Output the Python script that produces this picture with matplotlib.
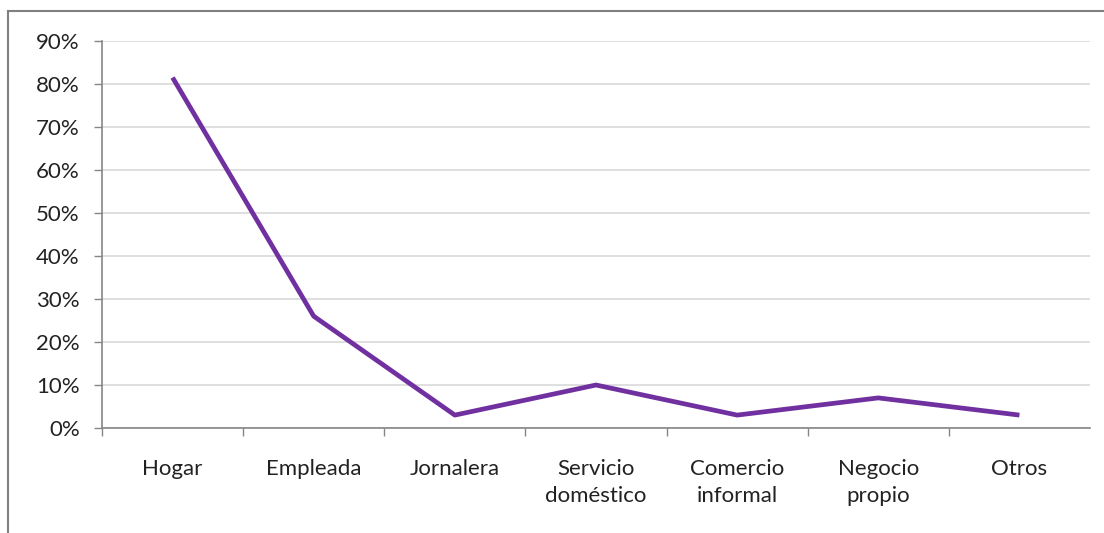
import matplotlib.pyplot as plt
from matplotlib.lines import Line2D
from matplotlib.ticker import FixedLocator, FuncFormatter

# Tipo de ocupación y porcentaje
categorias = ["Hogar", "Empleada", "Jornalera", "Servicio\ndoméstico",
              "Comercio\ninformal", "Negocio\npropio", "Otros"]
porcentajes = [81.5, 26, 3, 10, 3, 7, 3]
y_ticks = list(range(0, 91, 10))

plt.rcParams['font.family'] = ['Lato', 'DejaVu Sans']

fig = plt.figure(figsize=(11.04, 5.33), dpi=100)
ax = fig.add_axes([102 / 1104, 105 / 533, 988 / 1104, 387 / 533])

x = list(range(len(categorias)))
ax.plot(x, porcentajes, color='#7030a0', linewidth=3.4, solid_capstyle='butt',
        solid_joinstyle='round', zorder=3)

ax.set_xlim(-0.5, len(categorias) - 0.5)
ax.set_ylim(0, 90)

# eje Y con porcentajes y rejilla gris clara
ax.set_yticks(y_ticks)
ax.yaxis.set_major_formatter(FuncFormatter(lambda v, p: f'{int(v)}%'))
ax.grid(True, axis='y', color='#d9d9d9', linewidth=1.2)
ax.set_axisbelow(True)
ax.tick_params(axis='y', length=6, width=1, color='#868686', pad=10,
               labelsize=16, labelcolor='#222222')

# eje X: etiquetas centradas, marcas en los límites de cada categoría
ax.set_xticks(x)
ax.set_xticklabels(categorias, linespacing=1.45)
ax.tick_params(axis='x', which='major', length=0, pad=22,
               labelsize=16, labelcolor='#222222')
for lbl in ax.get_xticklabels():
    lbl.set_verticalalignment('top')
ax.xaxis.set_minor_locator(FixedLocator([i - 0.5 for i in range(len(categorias))]))
ax.tick_params(axis='x', which='minor', length=6, width=1, color='#868686')

for side in ['top', 'right']:
    ax.spines[side].set_visible(False)
for side in ['left', 'bottom']:
    ax.spines[side].set_color('#868686')
    ax.spines[side].set_linewidth(1.2)

# marco exterior (solo visibles el lado izquierdo y el superior)
fig.add_artist(Line2D([8 / 1104, 8 / 1104], [0, 1 - 11 / 533],
                      transform=fig.transFigure, color='#808080', linewidth=1.5))
fig.add_artist(Line2D([8 / 1104, 1], [1 - 11 / 533, 1 - 11 / 533],
                      transform=fig.transFigure, color='#808080', linewidth=1.5))

fig.savefig('out.png', dpi=100, facecolor='white')
